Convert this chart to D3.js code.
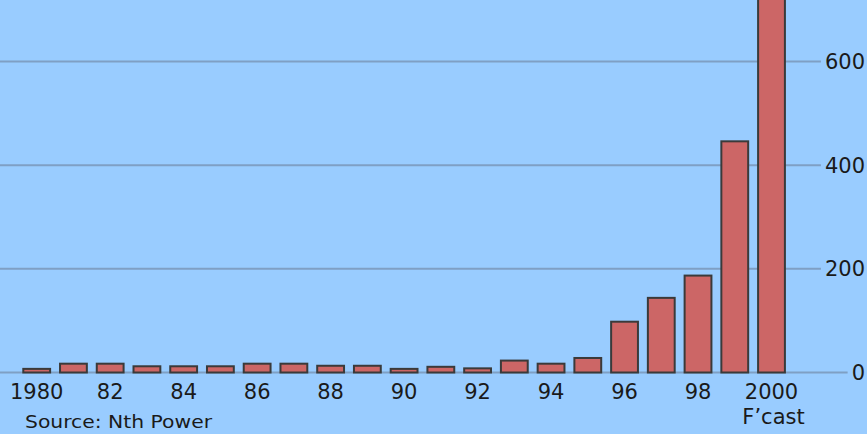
<!DOCTYPE html>
<html>
<head>
<meta charset="utf-8">
<script src="https://cdn.jsdelivr.net/npm/d3@7"></script>
<style>
  html, body { margin: 0; padding: 0; background: #99ccff; }
  svg { display: block; }
  text { font-family: "DejaVu Sans", Verdana, sans-serif; fill: #1a1a1a; }
</style>
</head>
<body>
<script>
// ---- data ----
const years = ["1980","1981","1982","1983","1984","1985","1986","1987","1988","1989","1990",
               "1991","1992","1993","1994","1995","1996","1997","1998","1999","2000"];
const values = [7, 17, 17, 12, 12, 12, 17, 17, 13, 13, 7, 11, 8, 23, 17, 28, 98, 144, 187, 446, 760];
const xTickLabels = {"1980":"1980","1982":"82","1984":"84","1986":"86","1988":"88","1990":"90",
                     "1992":"92","1994":"94","1996":"96","1998":"98","2000":"2000"};
const yTicks = [0, 200, 400, 600];
const sourceText = "Source: Nth Power";
const forecastNote = "F\u2019cast";

// ---- layout ----
const W = 867, H = 434;
const svg = d3.select("body").append("svg").attr("width", W).attr("height", H);
svg.append("rect").attr("width", W).attr("height", H).attr("fill", "#99ccff");

const step = 36.74;
const x = d3.scaleBand().domain(years)
  .range([18.33, 18.33 + step * years.length])
  .paddingInner(0.27).paddingOuter(0.135);
const y = d3.scaleLinear().domain([0, 600]).range([372.5, 61.5]);

// y labels on right, with gridlines ending before label
const labelRight = 865;
const yAxisG = svg.append("g");
yTicks.forEach(t => {
  const txt = yAxisG.append("text")
    .attr("x", labelRight).attr("y", y(t)).attr("dy", "0.36em")
    .attr("text-anchor", "end").attr("font-size", 21).text(t);
  const w = txt.node().getComputedTextLength();
  yAxisG.insert("line", "text")
    .attr("x1", 0).attr("x2", labelRight - w - 4)
    .attr("y1", y(t)).attr("y2", y(t))
    .attr("stroke", "#7f9fc4").attr("stroke-width", 2);
});

// bars
svg.append("g").selectAll("rect").data(years).join("rect")
  .attr("x", d => x(d))
  .attr("width", x.bandwidth())
  .attr("y", (d, i) => y(values[i]))
  .attr("height", (d, i) => y(0) - y(values[i]))
  .attr("fill", "#cc6666")
  .attr("stroke", "#3a3a3a")
  .attr("stroke-width", 2);

// x tick labels
const xAxis = d3.axisBottom(x)
  .tickValues(Object.keys(xTickLabels))
  .tickFormat(d => xTickLabels[d])
  .tickSize(0).tickPadding(0);
const gx = svg.append("g").attr("transform", "translate(0,0)");
gx.selectAll("text").data(Object.keys(xTickLabels)).join("text")
  .attr("x", d => x(d) + x.bandwidth() / 2)
  .attr("y", 399)
  .attr("text-anchor", "middle")
  .attr("font-size", 21)
  .text(d => xTickLabels[d]);

svg.append("text")
  .attr("x", x("2000") + x.bandwidth() / 2 + 2)
  .attr("y", 424)
  .attr("text-anchor", "middle")
  .attr("font-size", 21)
  .text(forecastNote);

svg.append("text")
  .attr("x", 25).attr("y", 428)
  .attr("font-size", 17)
  .attr("textLength", 187).attr("lengthAdjust", "spacingAndGlyphs")
  .text(sourceText);
</script>
</body>
</html>
